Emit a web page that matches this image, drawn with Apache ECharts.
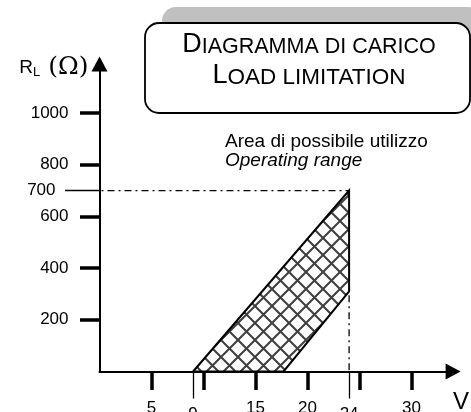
<!DOCTYPE html>
<html><head><meta charset="utf-8">
<script src="https://cdn.jsdelivr.net/npm/echarts@6/dist/echarts.min.js"></script>
<style>html,body{margin:0;padding:0;background:#fff}#c{width:471px;height:412px}</style>
</head><body><div id="c"></div>
<script>
// ---- data ----
const xTickValues = [5, 10, 15, 20, 25, 30];
const xLabelValues = [5, 15, 20, 30];
const xMarkValues = [9, 24];
const yTickValues = [200, 400, 600, 800, 1000];
const yMarkValues = [700];
const areaV = [9, 24, 24, 17.7];      // operating area polygon, V
const areaR = [0, 700, 310, 0];       // operating area polygon, R_L (ohm)
const refH = [[0, 700], [24, 700]];   // dash-dot reference at 700 ohm
const refV = [[24, 310], [24, 0]];    // dash-dot reference at 24 V
const xMax = 34, yMax = 1190;

const FONT = 'Liberation Sans, Arial, sans-serif';

function hatchPattern() {
  const p = 17;
  const c = document.createElement('canvas');
  c.width = p; c.height = p;
  const g = c.getContext('2d');
  g.strokeStyle = 'rgba(0,0,0,0.75)';
  g.lineWidth = 2.1;
  g.beginPath();
  g.moveTo(-3, -3); g.lineTo(p + 3, p + 3);
  g.moveTo(p + 3, -3); g.lineTo(-3, p + 3);
  g.stroke();
  return { image: c, repeat: 'repeat' };
}
const pattern = hatchPattern();
const plain = function (v) { return String(v); };

const chart = echarts.init(document.getElementById('c'), null, { renderer: 'canvas' });
const tickStyle = { color: '#000', fontSize: 17, fontFamily: FONT, formatter: plain };

chart.setOption({
  animation: false,
  backgroundColor: '#fff',
  grid: { left: 99.5, top: 63.9, right: 17.9, bottom: 40.5, containLabel: false, outerBoundsMode: 'none' },
  xAxis: [
    {
      type: 'value', min: 0, max: xMax, position: 'bottom',
      splitLine: { show: false },
      axisLine: { show: true, onZero: false, lineStyle: { color: '#000', width: 2 }, symbol: ['none', 'triangle'], symbolSize: [16, 15] },
      axisTick: { show: true, customValues: xTickValues, length: 18.5, lineStyle: { color: '#000', width: 3.5 } },
      axisLabel: Object.assign({ customValues: xLabelValues, margin: 28 }, tickStyle)
    },
    {
      type: 'value', min: 0, max: xMax, position: 'bottom',
      splitLine: { show: false },
      axisLine: { show: false, onZero: false },
      axisTick: { show: true, customValues: xMarkValues, length: 27, lineStyle: { color: '#000', width: 1.3 } },
      axisLabel: Object.assign({ customValues: xMarkValues, margin: 34 }, tickStyle)
    }
  ],
  yAxis: [
    {
      type: 'value', min: 0, max: yMax, position: 'left',
      splitLine: { show: false },
      axisLine: { show: true, onZero: false, lineStyle: { color: '#000', width: 2 }, symbol: ['none', 'triangle'], symbolSize: [16, 15] },
      axisTick: { show: true, customValues: yTickValues, length: 19.5, lineStyle: { color: '#000', width: 3.5 } },
      axisLabel: Object.assign({ customValues: yTickValues, margin: 31 }, tickStyle),
      name: '{r|R}{sub|L}{sp| }{o|(Ω)}', nameLocation: 'end', nameGap: -4,
      nameTextStyle: {
        align: 'right', verticalAlign: 'middle', padding: [0, 11, 0, 0],
        rich: {
          r: { fontSize: 19, fontFamily: FONT, color: '#000' },
          sub: { fontSize: 13, fontFamily: FONT, color: '#000', padding: [9, 0, 0, 0] },
          sp: { fontSize: 19, fontFamily: FONT, color: '#000', width: 8 },
          o: { fontSize: 25, fontFamily: 'DejaVu Serif, Liberation Serif, serif', color: '#000' }
        }
      }
    },
    {
      type: 'value', min: 0, max: yMax, position: 'left',
      splitLine: { show: false },
      axisLine: { show: false, onZero: false },
      axisTick: { show: true, customValues: yMarkValues, length: 34.5, lineStyle: { color: '#000', width: 1.3 } },
      axisLabel: Object.assign({ customValues: yMarkValues, margin: 44 }, tickStyle)
    }
  ],
  graphic: [
    { type: 'rect', z: 10, shape: { x: 162, y: 7, width: 320, height: 90, r: 14 }, style: { fill: '#c0c0c0', stroke: null } },
    { type: 'rect', z: 11, shape: { x: 145, y: 23, width: 325, height: 90, r: 14 }, style: { fill: '#fff', stroke: '#000', lineWidth: 1.8 } },
    { type: 'text', z: 12, x: 309, y: 58,
      style: { text: '{b|D}{s|IAGRAMMA DI CARICO}', align: 'center', verticalAlign: 'bottom',
        rich: { b: { fontSize: 27, fontFamily: FONT, fill: '#000', verticalAlign: 'bottom' }, s: { fontSize: 21.5, fontFamily: FONT, fill: '#000', verticalAlign: 'bottom' } } } },
    { type: 'text', z: 12, x: 309, y: 89,
      style: { text: '{b|L}{s|OAD LIMITATION}', align: 'center', verticalAlign: 'bottom',
        rich: { b: { fontSize: 27, fontFamily: FONT, fill: '#000', verticalAlign: 'bottom' }, s: { fontSize: 22.5, fontFamily: FONT, fill: '#000', verticalAlign: 'bottom' } } } },
    { type: 'text', z: 12, x: 225, y: 142,
      style: { text: 'Area di possibile utilizzo', font: '19px ' + FONT, fill: '#000', align: 'left', verticalAlign: 'middle' } },
    { type: 'text', z: 12, x: 225, y: 160.5,
      style: { text: 'Operating range', font: 'italic 19px ' + FONT, fill: '#000', align: 'left', verticalAlign: 'middle' } },
    { type: 'text', z: 12, x: 461, y: 402,
      style: { text: 'V', font: '24px ' + FONT, fill: '#000', align: 'center', verticalAlign: 'middle' } }
  ],
  series: [
    {
      type: 'custom', xAxisIndex: 0, yAxisIndex: 0, z: 3,
      data: [0],
      renderItem: function (params, api) {
        const pts = areaV.map(function (v, i) { return api.coord([v, areaR[i]]); });
        return {
          type: 'polygon',
          shape: { points: pts },
          style: { fill: pattern, stroke: '#000', lineWidth: 2 }
        };
      }
    },
    {
      type: 'line', xAxisIndex: 0, yAxisIndex: 0, z: 2, data: refH, symbol: 'none',
      lineStyle: { color: '#000', width: 1.3, type: [7, 4, 2, 4], dashOffset: 9 }
    },
    {
      type: 'line', xAxisIndex: 0, yAxisIndex: 0, z: 2, data: refV, symbol: 'none',
      lineStyle: { color: '#000', width: 1.3, type: [7, 4, 2, 4], dashOffset: 13 }
    }
  ]
});
</script>
</body></html>
